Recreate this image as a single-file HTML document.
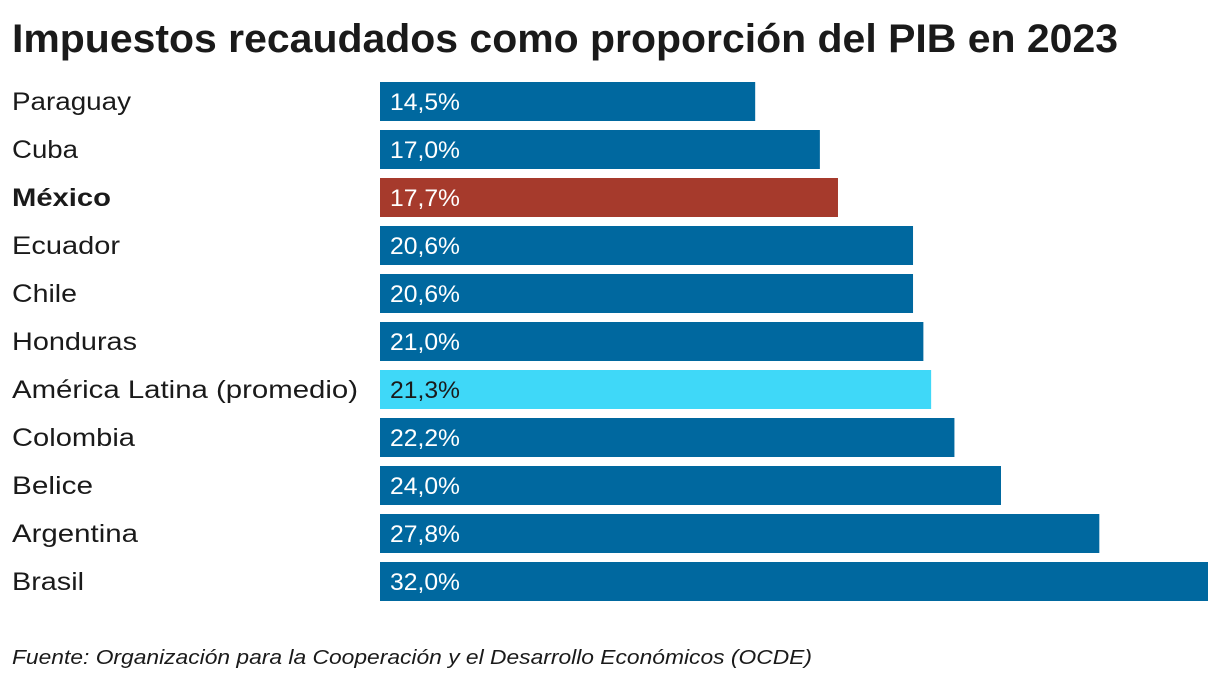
<!DOCTYPE html>
<html><head><meta charset="utf-8"><style>
html,body{margin:0;padding:0;background:#fff;}
svg{display:block;font-family:"Liberation Sans",sans-serif;}
</style></head><body>
<svg id="chart" width="1220" height="682" viewBox="0 0 1220 682">
<text x="12" y="52" font-size="40" font-weight="bold" fill="#1a1a1a" textLength="1106" lengthAdjust="spacingAndGlyphs">Impuestos recaudados como proporción del PIB en 2023</text>
<g id="bars"></g>
<text x="12" y="664" font-size="20" font-style="italic" fill="#1a1a1a" textLength="800" lengthAdjust="spacingAndGlyphs">Fuente: Organización para la Cooperación y el Desarrollo Económicos (OCDE)</text>
</svg>
<script>
const categories = ["Paraguay","Cuba","México","Ecuador","Chile","Honduras","América Latina (promedio)","Colombia","Belice","Argentina","Brasil"];
const values = [14.5,17.0,17.7,20.6,20.6,21.0,21.3,22.2,24.0,27.8,32.0];
const valueLabels = ["14,5%","17,0%","17,7%","20,6%","20,6%","21,0%","21,3%","22,2%","24,0%","27,8%","32,0%"];
const x0 = 380, xMax = 1208, vMax = 32.0;
const xScale = v => x0 + (xMax - x0) * v / vMax;
const yScale = i => 82 + i * 48;
const NS = "http://www.w3.org/2000/svg";
const g = document.getElementById("bars");
const labelWidths = {"Paraguay":119,"Cuba":66,"México":99,"Ecuador":108,"Chile":65,"Honduras":125,"América Latina (promedio)":346,"Colombia":123,"Belice":81,"Argentina":126,"Brasil":72};
categories.forEach((c, i) => {
  const y = yScale(i);
  const isMx = c === "México", isAvg = c.startsWith("América");
  const lab = document.createElementNS(NS, "text");
  
  
  lab.setAttribute("x", 12); lab.setAttribute("y", y + 28);
  lab.setAttribute("font-size", "25");
  lab.setAttribute("fill", "#1a1a1a");
  if (isMx) lab.setAttribute("font-weight", "bold");
  lab.setAttribute("textLength", labelWidths[c]);
  lab.setAttribute("lengthAdjust", "spacingAndGlyphs");
  lab.textContent = c;
  g.appendChild(lab);
  const r = document.createElementNS(NS, "rect");
  
  
  r.setAttribute("x", x0); r.setAttribute("y", y);
  r.setAttribute("width", xScale(values[i]) - x0); r.setAttribute("height", 39);
  r.setAttribute("fill", isMx ? "#a63a2c" : isAvg ? "#3fd8f8" : "#00689f");
  g.appendChild(r);
  const t = document.createElementNS(NS, "text");
  
  
  t.setAttribute("x", 390); t.setAttribute("y", y + 28);
  t.setAttribute("font-size", "24");
  t.setAttribute("fill", isAvg ? "#1a1a1a" : "#fff");
  t.setAttribute("textLength", "70");
  t.setAttribute("lengthAdjust", "spacingAndGlyphs");
  t.textContent = valueLabels[i];
  g.appendChild(t);
});
</script>
</body></html>
